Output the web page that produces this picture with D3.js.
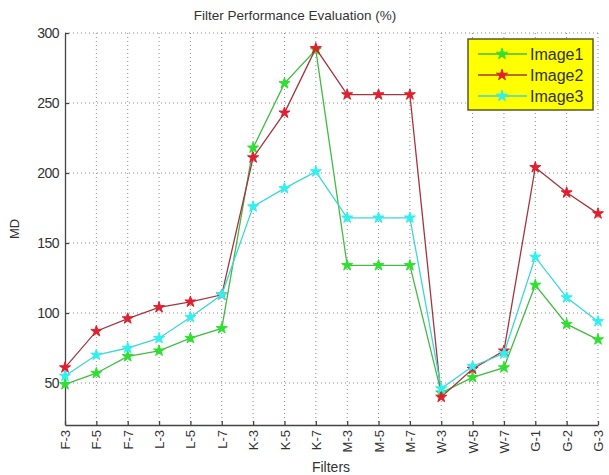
<!DOCTYPE html>
<meta charset="utf-8">
<head>
    <title></title>
    <script src="https://cdn.jsdelivr.net/npm/d3@7/dist/d3.min.js"></script>
</head>
<style>
    body{ margin:0; background:#fff; }
    text{ font-family: "Liberation Sans", Arial, sans-serif; fill:#333; }
</style>
<svg width="609" height="475"></svg>
<script>
    var filters = ['F-3','F-5','F-7','L-3','L-5','L-7','K-3','K-5','K-7','M-3','M-5','M-7','W-3','W-5','W-7','G-1','G-2','G-3'];
    var image1 = [49,57,69,73,82,89,218,264,288,134,134,134,43,54,61,120,92,81];
    var image2 = [61,87,96,104,108,113,211,243,289,256,256,256,40,60,73,204,186,171];
    var image3 = [55,70,75,82,97,113,176,189,201,168,168,168,46,62,71,140,111,94];
    var yTicks = [50,100,150,200,250,300];

    var series = [
        {name:'Image1', values:image1, line:'#44bb44', mark:'#2fe02f'},
        {name:'Image2', values:image2, line:'#a3363f', mark:'#e0202e'},
        {name:'Image3', values:image3, line:'#3fd6d6', mark:'#30f0f0'}
    ];

    var pLeft = 65, pRight = 598, pTop = 33, pBottom = 425;
    var svg = d3.select('svg');

    var x = d3.scalePoint().domain(filters).range([pLeft, pRight]);
    var y = d3.scaleLinear().domain([20, 300]).range([pBottom, pTop]);

    // grid
    var grid = svg.append('g').attr('stroke','#8a8a8a').attr('stroke-dasharray','1,3').attr('stroke-width',1);
    grid.selectAll('line.h').data(yTicks).enter().append('line')
        .attr('x1', pLeft).attr('x2', pRight)
        .attr('y1', function(d){ return y(d); }).attr('y2', function(d){ return y(d); });
    grid.selectAll('line.v').data(filters.slice(1)).enter().append('line')
        .attr('x1', function(d){ return x(d); }).attr('x2', function(d){ return x(d); })
        .attr('y1', pTop).attr('y2', pBottom);

    // axes
    var yAxis = svg.append('g').attr('transform','translate(' + pLeft + ',0)')
        .call(d3.axisLeft(y).tickValues(yTicks).tickSizeInner(-4).tickSizeOuter(0).tickPadding(6));
    var xAxis = svg.append('g').attr('transform','translate(0,' + pBottom + ')')
        .call(d3.axisBottom(x).tickSizeInner(-4).tickSizeOuter(0).tickPadding(4));
    svg.selectAll('.domain, .tick line').attr('stroke','#444').attr('stroke-width',1.3);
    yAxis.selectAll('text').style('font-size','14px').style('letter-spacing','-0.5px').attr('fill','#333');
    xAxis.selectAll('text').style('font-size','13px').attr('fill','#333')
        .attr('transform','rotate(-90)').attr('text-anchor','end')
        .attr('x', -5).attr('y', 0).attr('dy','0.35em');

    // lines
    var line = d3.line().x(function(d,i){ return x(filters[i]); }).y(function(d){ return y(d); });
    var star = d3.symbol().type(d3.symbolStar).size(38);

    series.forEach(function(s){
        svg.append('path').datum(s.values)
            .attr('d', line).attr('fill','none')
            .attr('stroke', s.line).attr('stroke-width',1.3);
        svg.selectAll(null).data(s.values).enter().append('path')
            .attr('d', star)
            .attr('transform', function(d,i){ return 'translate(' + x(filters[i]) + ',' + y(d) + ')'; })
            .attr('fill', s.mark).attr('stroke', s.mark).attr('stroke-width',1);
    });

    // title and labels
    svg.append('text').attr('x', 295).attr('y', 20).attr('text-anchor','middle')
        .style('font-size','13.5px').text('Filter Performance Evaluation (%)');
    svg.append('text').attr('x', 331).attr('y', 472).attr('text-anchor','middle')
        .style('font-size','14px').text('Filters');
    svg.append('text').attr('transform','translate(19,229) rotate(-90)').attr('text-anchor','middle')
        .style('font-size','13px').text('MD');

    // legend
    var lg = svg.append('g');
    lg.append('rect').attr('x',468).attr('y',39).attr('width',125).attr('height',71)
        .attr('fill','#ffff00').attr('stroke','#5a5a20').attr('stroke-width',1.5);
    series.forEach(function(s,i){
        var ly = 54 + i*21;
        lg.append('line').attr('x1',478).attr('x2',527).attr('y1',ly).attr('y2',ly)
            .attr('stroke', s.line).attr('stroke-width',1.3);
        lg.append('path').attr('d', star).attr('transform','translate(502,' + ly + ')')
            .attr('fill', s.mark).attr('stroke', s.mark).attr('stroke-width',1);
        lg.append('text').attr('x',530).attr('y', ly + 6).style('font-size','16px')
            .attr('fill','#333').text(s.name);
    });
</script>
